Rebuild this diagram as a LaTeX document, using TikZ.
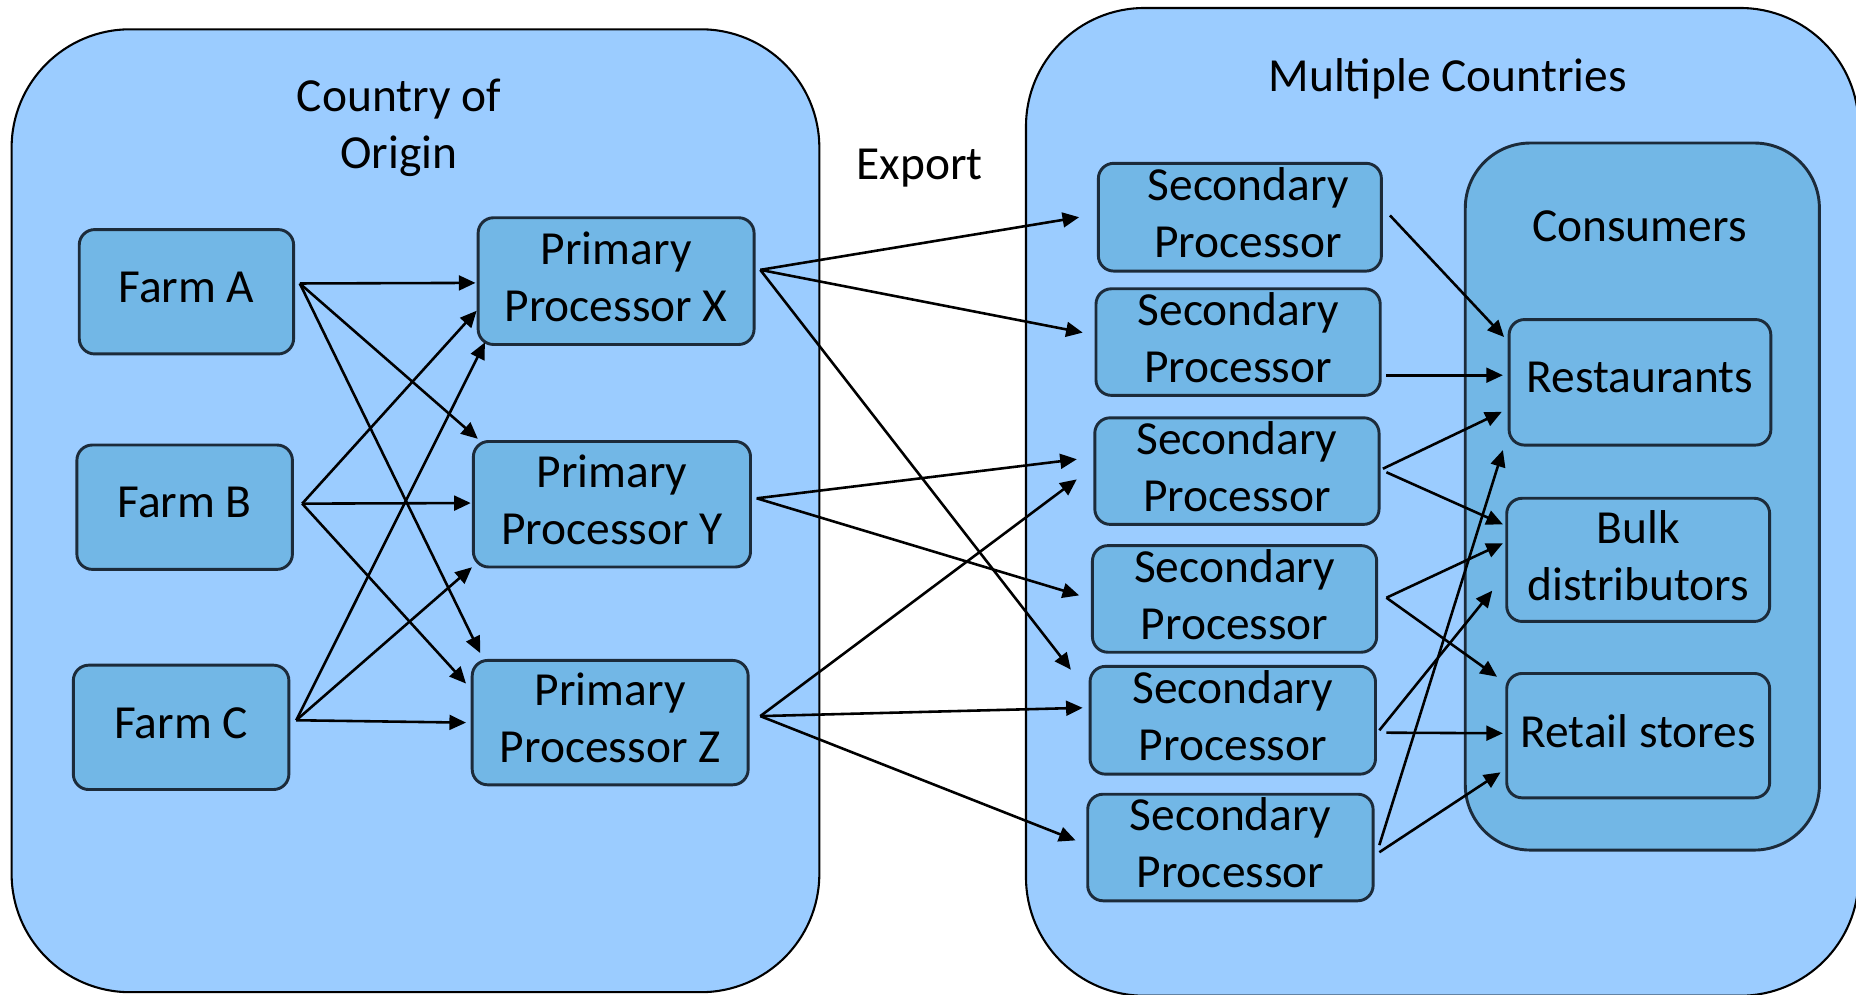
\documentclass[tikz,border=0pt]{standalone}
\usepackage{fontspec}
\setmainfont{Carlito}
\usetikzlibrary{arrows.meta}
\definecolor{regionblue}{HTML}{9BCCFF}
\definecolor{boxblue}{HTML}{72B7E6}
\definecolor{boxedge}{HTML}{1C2B3A}

\begin{document}
\begin{tikzpicture}[x=0.01cm, y=-0.01cm,
  region/.style={draw=black, line width=0.5pt, fill=regionblue, rounded corners=1cm, inner sep=0pt},
  unit/.style={draw=boxedge, line width=0.7pt, fill=boxblue, rounded corners=0.13cm,
    align=center, inner sep=0pt, text depth=0.08cm, font=\fontsize{11.4}{13.7}\selectfont},
  caption/.style={align=center, inner sep=0pt, font=\fontsize{11.4}{13.7}\selectfont},
  flow/.style={-{Triangle[length=0.14cm,width=0.125cm]}, line width=0.62pt}
]
\useasboundingbox (0,0) rectangle (1568,840);
\fill[white] (0,0) rectangle (1568,840);
\clip (0,0) rectangle (1568,840);

% the two countries
\node[region, minimum width=6.82cm, minimum height=8.13cm] (origin) at (351,431.5) {};
\node[region, minimum width=7.03cm, minimum height=8.34cm] (abroad) at (1218.5,424) {};
\node[caption] (origintitle) at (337,108) {Country of\\Origin};
\node[caption] (abroadtitle) at (1223,67) {Multiple Countries};
\node[caption] (export) at (777,142) {Export};

% consumers group
\node[draw=boxedge, line width=0.7pt, fill=boxblue, rounded corners=0.55cm,
  minimum width=2.99cm, minimum height=5.97cm] (consumers) at (1387.5,419.5) {};
\node[caption] (consumertitle) at (1385,191) {Consumers};

% farms
\node[unit, minimum width=1.81cm, minimum height=1.05cm] (fa) at (157.5,246.5) {Farm A};
\node[unit, minimum width=1.82cm, minimum height=1.05cm] (fb) at (156,428.5) {Farm B};
\node[unit, minimum width=1.82cm, minimum height=1.05cm] (fc) at (153,614.5) {Farm C};

% primary processors
\node[unit, minimum width=2.33cm, minimum height=1.07cm] (px) at (520.5,237.5) {Primary\\Processor X};
\node[unit, minimum width=2.34cm, minimum height=1.06cm] (py) at (517,426) {Primary\\Processor Y};
\node[unit, minimum width=2.33cm, minimum height=1.05cm] (pz) at (515.5,610.5) {Primary\\Processor Z};

% secondary processors
\node[unit, minimum width=2.39cm, minimum height=0.91cm] (s1) at (1047.5,183.5) {\hspace*{0.14cm}Secondary\\\hspace*{0.14cm}Processor};
\node[unit, minimum width=2.40cm, minimum height=0.90cm] (s2) at (1046,289) {Secondary\\Processor};
\node[unit, minimum width=2.40cm, minimum height=0.90cm] (s3) at (1045,398) {Secondary\\Processor};
\node[unit, minimum width=2.40cm, minimum height=0.90cm] (s4) at (1043,506) {Secondary\\Processor};
\node[unit, minimum width=2.41cm, minimum height=0.91cm] (s5) at (1041.5,608.5) {Secondary\\Processor};
\node[unit, minimum width=2.41cm, minimum height=0.90cm] (s6) at (1039.5,716) {Secondary\\Processor};

% consumer types
\node[unit, minimum width=2.21cm, minimum height=1.06cm] (rest) at (1385.5,323) {Restaurants};
\node[unit, minimum width=2.22cm, minimum height=1.04cm] (bulk) at (1384,473) {Bulk\\distributors};
\node[unit, minimum width=2.22cm, minimum height=1.05cm] (retail) at (1384,621.5) {Retail stores};

% farms to primary processors
\draw[flow] ([shift={(4,-7)}]fa.east) -- ([shift={(-1,1.5)}]px.west);
\draw[flow] ([shift={(4,-7)}]fa.east) -- ([shift={(5,-1)}]py.north west);
\draw[flow] ([shift={(4,-7)}]fa.east) -- ([shift={(8,-5)}]pz.north west);
\draw[flow] ([shift={(7,-3)}]fb.east) -- ([shift={(0,25)}]px.west);
\draw[flow] ([shift={(7,-3)}]fb.east) -- ([shift={(-1,-1)}]py.west);
\draw[flow] ([shift={(7,-3)}]fb.east) -- ([shift={(-4,-33)}]pz.west);
\draw[flow] ([shift={(5,-6)}]fc.east) -- ([shift={(7,-3)}]px.south west);
\draw[flow] ([shift={(5,-6)}]fc.east) -- ([shift={(0,-1)}]py.south west);
\draw[flow] ([shift={(5,-6)}]fc.east) -- ([shift={(-4,0)}]pz.west);

% export to secondary processors
\draw[flow] ([shift={(4,-9.5)}]px.east) -- ([shift={(-15,0)}]s1.west);
\draw[flow] ([shift={(4,-9.5)}]px.east) -- ([shift={(-10,-8)}]s2.west);
\draw[flow] ([shift={(4,-9.5)}]px.east) -- ([shift={(-15,4)}]s5.north west);
\draw[flow] ([shift={(4,-5)}]py.east) -- ([shift={(-14,-10)}]s3.west);
\draw[flow] ([shift={(4,-5)}]py.east) -- ([shift={(-10,-3)}]s4.west);
\draw[flow] ([shift={(9,-5.5)}]pz.east) -- ([shift={(-14,7)}]s3.west);
\draw[flow] ([shift={(9,-5.5)}]pz.east) -- ([shift={(-5,-10.5)}]s5.west);
\draw[flow] ([shift={(9,-5.5)}]pz.east) -- ([shift={(-9,-6)}]s6.west);

% secondary processors to consumers
\draw[flow] ([shift={(6,-1.5)}]s1.east) -- ([shift={(-3,16)}]rest.north west);
\draw[flow] ([shift={(4,28)}]s2.east) -- ([shift={(-4,-6)}]rest.west);
\draw[flow] ([shift={(2,-2)}]s3.east) -- ([shift={(-5,25)}]rest.west);
\draw[flow] ([shift={(5,1)}]s3.east) -- ([shift={(-2,-30)}]bulk.west);
\draw[flow] ([shift={(7,-1)}]s4.east) -- ([shift={(-2,-14)}]bulk.west);
\draw[flow] ([shift={(7,-1)}]s4.east) -- ([shift={(-7,4)}]retail.north west);
\draw[flow] ([shift={(2,8.5)}]s5.east) -- ([shift={(-11,26)}]bulk.west);
\draw[flow] ([shift={(8,10.5)}]s5.east) -- ([shift={(-2,-2)}]retail.west);
\draw[flow] ([shift={(4,-2)}]s6.east) -- ([shift={(-4,3)}]rest.south west);
\draw[flow] ([shift={(4,4)}]s6.east) -- ([shift={(-4,31)}]retail.west);
\end{tikzpicture}
\end{document}
